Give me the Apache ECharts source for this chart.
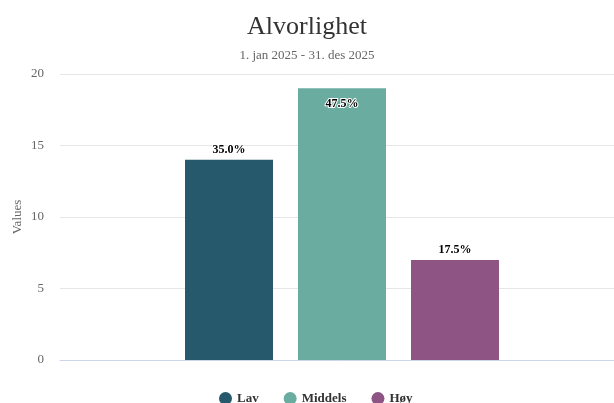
<!DOCTYPE html>
<html><head><meta charset="utf-8">
<script src="https://cdn.jsdelivr.net/npm/echarts@6/dist/echarts.min.js"></script>
<style>html,body{margin:0;padding:0;background:#fff}#c{width:614px;height:403px}</style>
</head><body><div id="c"></div>
<script>
const titleText = "Alvorlighet";
const subtitleText = "1. jan 2025 - 31. des 2025";
const seriesNames = ["Lav", "Middels", "Høy"];
const seriesValues = [14, 19, 7];
const seriesColors = ["#26596b", "#6aaca0", "#8e5483"];
const yTicks = [0, 5, 10, 15, 20];
const yAxisName = "Values";

const total = seriesValues.reduce((a, b) => a + b, 0);
const font = "'Liberation Serif', 'Times New Roman', serif";
const chart = echarts.init(document.getElementById('c'));
chart.setOption({
  animation: false,
  textStyle: { fontFamily: font },
  title: [
    { text: titleText, left: 'center', top: 9, textStyle: { fontFamily: font, fontSize: 26, fontWeight: 'normal', color: '#333' } },
    { text: subtitleText, left: 'center', top: 44, textStyle: { fontFamily: font, fontSize: 13, fontWeight: 'normal', color: '#666' } }
  ],
  grid: { left: 60, right: -10, top: 74, bottom: 43, outerBoundsMode: 'none', containLabel: false },
  legend: {
    top: 387, left: 214, icon: 'circle', itemWidth: 13, itemHeight: 13, itemGap: 25,
    textStyle: { fontFamily: font, fontSize: 13, fontWeight: 'bold', color: '#333' }
  },
  xAxis: {
    type: 'category', data: [''],
    axisLine: { lineStyle: { color: '#ccd6eb' } },
    axisTick: { length: 10, lineStyle: { color: '#ccd6eb' } },
    axisLabel: { show: false }
  },
  yAxis: {
    type: 'value', min: yTicks[0], max: yTicks[yTicks.length - 1], interval: 5,
    name: yAxisName, nameLocation: 'middle', nameGap: 36, nameRotate: 90, nameMoveOverlap: false,
    nameTextStyle: { fontFamily: font, fontSize: 13, color: '#666' },
    axisLabel: { fontFamily: font, fontSize: 13, color: '#666', margin: 16 },
    splitLine: { lineStyle: { color: '#e6e6e6' } },
    axisLine: { show: false }, axisTick: { show: false }
  },
  series: seriesNames.map((n, i) => ({
    name: n, type: 'bar', data: [seriesValues[i]], barWidth: 88, barGap: '28.4%',
    itemStyle: { color: seriesColors[i] },
    label: {
      show: true,
      position: i === 1 ? 'insideTop' : 'top',
      distance: i === 1 ? 10 : 4,
      formatter: () => (seriesValues[i] / total * 100).toFixed(1) + '%',
      fontFamily: font, fontSize: 12, fontWeight: 'bold', color: '#000',
      textBorderColor: '#fff', textBorderWidth: 2
    }
  }))
});
</script></body></html>
